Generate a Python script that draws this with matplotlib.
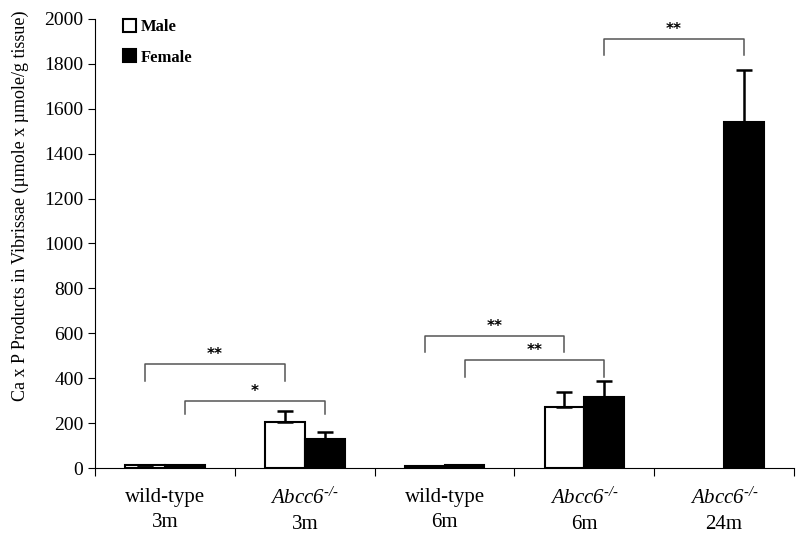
import numpy as np
import matplotlib.pyplot as plt
from matplotlib.patches import Patch

plt.rcParams['font.family'] = ['Liberation Serif', 'DejaVu Serif']
plt.rcParams['mathtext.fontset'] = 'custom'
plt.rcParams['mathtext.rm'] = 'Liberation Serif:italic'
plt.rcParams['mathtext.it'] = 'Liberation Serif:italic'

# data
gene = '$Abcc6^{\\text{-/-}}$'
groups = ['wild-type\n3m', gene + '\n3m', 'wild-type\n6m', gene + '\n6m', gene + '\n24m']
male = [12, 205, 8, 273, np.nan]
male_err = [0, 50, 0, 67, np.nan]
female = [12, 129, 15, 318, 1540]
female_err = [0, 33, 0, 70, 230]

# significance brackets: (left x, right x, bar height, leg bottom, label)
bw = 0.285
brackets = [
    (0 - bw / 2, 1 - bw / 2, 463, 389, '**'),
    (0 + bw / 2, 1 + bw / 2, 298, 240, '*'),
    (2 - bw / 2, 3 - bw / 2, 588, 518, '**'),
    (2 + bw / 2, 3 + bw / 2, 481, 407, '**'),
    (3 + bw / 2, 4 + bw / 2, 1910, 1840, '**'),
]

fig = plt.figure(figsize=(8, 5.38), dpi=100)
ax = fig.add_axes([0.119, 0.130, 0.8735, 0.835])

x = np.arange(len(groups))
ax.bar(x - bw / 2, male, bw, color='white', edgecolor='black', linewidth=1.5,
       yerr=[np.zeros(len(male)), male_err], capsize=6,
       error_kw=dict(elinewidth=1.8, capthick=1.8, ecolor='black'))
ax.bar(x + bw / 2, female, bw, color='black', edgecolor='black', linewidth=1.5,
       yerr=[np.zeros(len(female)), female_err], capsize=6,
       error_kw=dict(elinewidth=1.8, capthick=1.8, ecolor='black'))

for x1, x2, ytop, yleg, lab in brackets:
    ax.plot([x1, x1, x2, x2], [yleg, ytop, ytop, yleg], color='#555555', lw=1.1)
    ax.text((x1 + x2) / 2, ytop + 8, lab, ha='center', va='bottom',
            fontsize=11, family='DejaVu Sans', fontweight='bold')

ax.set_xlim(-0.5, 4.5)
ax.set_ylim(0, 2000)
ax.set_yticks(np.arange(0, 2001, 200))
ax.tick_params(axis='y', labelsize=14, direction='out', length=5)
ax.set_xticks(np.arange(-0.5, 4.6, 1))
ax.set_xticklabels([])
ax.set_xticks(x, minor=True)
ax.set_xticklabels(groups, minor=True, fontsize=15, linespacing=1.45)
ax.tick_params(axis='x', which='major', direction='out', length=6)
ax.tick_params(axis='x', which='minor', length=0, pad=14)
ax.spines['top'].set_visible(False)
ax.spines['right'].set_visible(False)
ax.set_ylabel('Ca x P Products in Vibrissae (\u00b5mole x \u00b5mole/g tissue)', fontsize=13)
ax.yaxis.set_label_coords(-0.095, 0.585)

handles = [Patch(facecolor='white', edgecolor='black', lw=1.5, label='Male'),
           Patch(facecolor='black', edgecolor='black', lw=1.5, label='Female')]
ax.legend(handles=handles, loc='upper left', bbox_to_anchor=(0.018, 1.033), frameon=False,
          handlelength=0.8, handleheight=0.8, handletextpad=0.25, labelspacing=0.85,
          prop={'size': 12, 'weight': 'bold'})

fig.savefig('out.png', dpi=100)
